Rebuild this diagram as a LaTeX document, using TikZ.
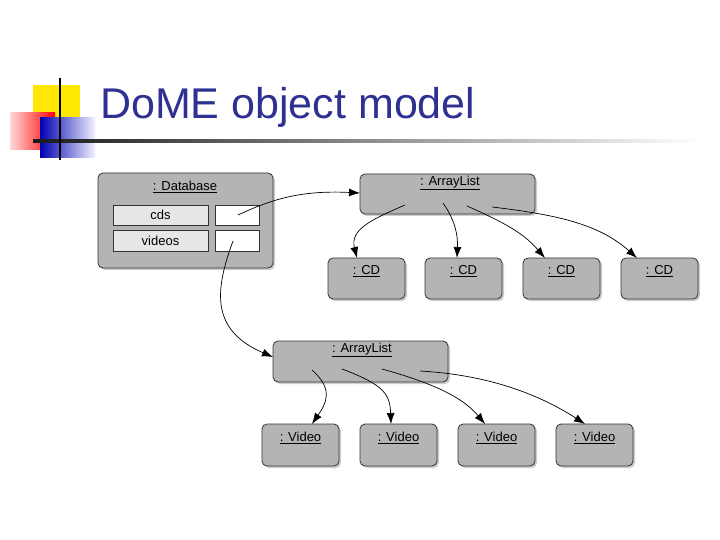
\documentclass[tikz,border=0pt]{standalone}
\usepackage{fontspec}
\setmainfont{Liberation Sans}
\usetikzlibrary{arrows.meta,shadows}
\definecolor{ttl}{HTML}{2E3192}
\definecolor{boxg}{HTML}{B4B4B4}
\definecolor{fieldg}{HTML}{E6E6E6}
\tikzset{
  obj/.style={draw=black!80,line width=0.8pt,fill=boxg,rounded corners=5pt,drop shadow={shadow xshift=2pt,shadow yshift=-2pt,opacity=0.4}},
  fld/.style={draw=black!80,line width=0.8pt},
  lbl/.style={font=\fontsize{13}{15}\selectfont,inner sep=0pt},
  arr/.style={-{Latex[length=11pt,width=8pt]},line width=0.7pt}
}
\begin{document}
\begin{tikzpicture}[x=1pt,y=-1pt]
\useasboundingbox (0,0) rectangle (720,540);
% decoration
\fill[yellow!90!orange] (33,85) rectangle (80,128);
\shade[left color=red!15!white,right color=red] (10,113) rectangle (55,150);
\shade[left color=blue!70!black,right color=blue!5!white] (40,118) rectangle (95,158);
\shade[left color=black!90,right color=white] (33,140) rectangle (700,142.5);
\draw[line width=2.5pt] (60,78) -- (60,160);
\node[anchor=base west,text=ttl,font=\fontsize{43}{46}\selectfont,inner sep=0pt] (title) at (100,119) {DoME object model};
% database
\path[obj] (98,173) rectangle (273,268);
\node[lbl] (dbl) at (185,187) {\underline{: Database}};
\path[fld,fill=fieldg] (113,205) rectangle (208,225);
\node[lbl] (cds) at (160.5,215) {cds};
\path[fld,fill=white] (215,205) rectangle (259,225);
\path[fld,fill=fieldg] (113,230) rectangle (208,251);
\node[lbl] (vid) at (160.5,240.5) {videos};
\path[fld,fill=white] (215,230) rectangle (259,251);
\coordinate (cv) at (238,215);
\coordinate (vv) at (233,241);
% arraylist 1
\path[obj] (360,174) rectangle (535,214);
\node[lbl] (al1) at (450,183) {\underline{: ArrayList}};
\coordinate (al1w) at (360,193);
% CDs
\foreach \x/\n in {328/c1,425/c2,523/c3,621/c4}{
  \path[obj] (\x,258) rectangle ++(77,41);
  \node[lbl] (\n) at (\x+38.5,271) {\underline{: CD}};
}
% arraylist 2
\path[obj] (273,341) rectangle (448,382);
\node[lbl] (al2) at (362,350) {\underline{: ArrayList}};
\coordinate (al2w) at (273,357);
% videos
\foreach \x/\n in {262/v1,360/v2,458/v3,556/v4}{
  \path[obj] (\x,424) rectangle ++(77,42);
  \node[lbl] (\n) at (\x+38.5,438) {\underline{: Video}};
}
% arrows
\draw[arr] (cv) .. controls (270,200) and (300,190) .. (al1w);
\draw[arr] (vv) .. controls (215,290) and (210,330) .. (al2w);
\draw[arr] (405,205) .. controls (370,220) and (350,230) .. (357,258);
\draw[arr] (443,203) .. controls (455,220) and (458,235) .. (457,258);
\draw[arr] (467,206) .. controls (510,225) and (525,235) .. (545,258);
\draw[arr] (492,207) .. controls (560,215) and (600,225) .. (637,258);
\draw[arr] (312,370) .. controls (335,390) and (325,405) .. (312,424);
\draw[arr] (342,369) .. controls (385,385) and (390,395) .. (391,424);
\draw[arr] (382,369) .. controls (440,385) and (465,400) .. (485,424);
\draw[arr] (420,371) .. controls (490,375) and (540,395) .. (585,424);
\end{tikzpicture}
\end{document}
